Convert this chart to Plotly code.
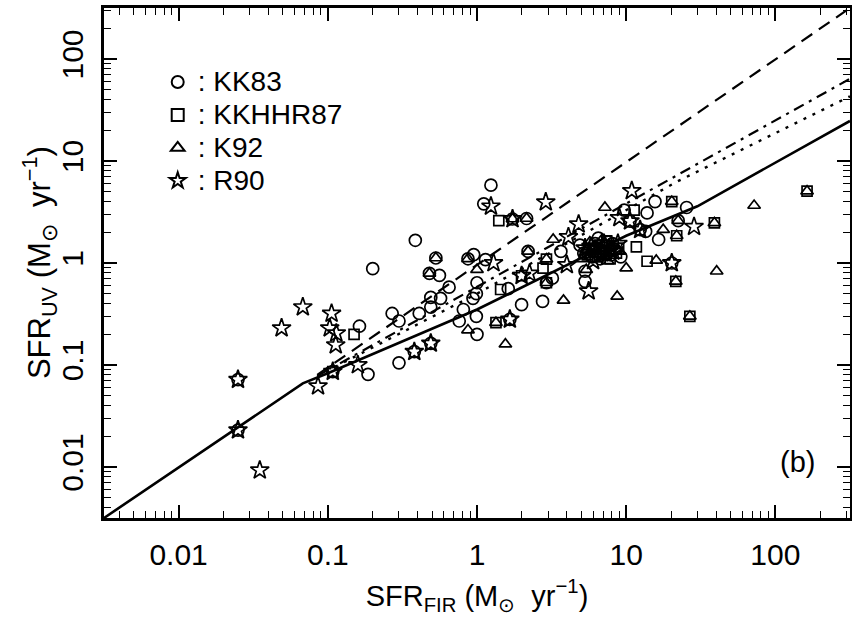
import plotly.graph_objects as go

# --- data (SFR in Msun/yr) ---
kk83_x = [0.025, 0.025, 0.108, 0.163, 0.186, 0.20, 0.27, 0.30, 0.30,
          0.386, 0.53, 0.48, 0.56, 0.65, 0.49, 0.57, 0.49, 0.41, 0.38, 0.49,
          0.87, 0.95, 1.14, 1.0, 0.99, 0.94, 0.81, 0.76, 1.0, 0.99,
          1.24, 1.11, 1.73, 2.15, 1.62, 1.99, 2.75, 2.2, 2.92, 1.66,
          3.65, 5.3, 5.3, 3.2, 15.6, 13.8, 25.4, 16.5, 22.3, 9.7, 10.6, 12.4, 13.5, 20.2,
          5.6, 6.2, 6.8, 7.3, 7.9, 5.9, 8.4, 6.5, 7.6, 5.2, 9.2, 4.9,
          6.0, 7.0, 8.1, 6.7]
kk83_y = [0.023, 0.072, 0.086, 0.24, 0.081, 0.88, 0.32, 0.27, 0.105,
          1.67, 1.12, 0.79, 0.755, 0.58, 0.46, 0.45, 0.37, 0.32, 0.135, 0.163,
          1.10, 1.21, 1.08, 0.64, 0.50, 0.45, 0.35, 0.27, 0.20, 0.30,
          5.8, 3.8, 2.7, 2.73, 0.56, 0.39, 0.42, 1.30, 0.64, 0.28,
          1.30, 0.66, 0.83, 0.71, 4.0, 3.1, 3.5, 1.70, 2.6, 3.3, 2.57, 2.12, 2.04, 1.0,
          1.35, 1.55, 1.25, 1.45, 1.2, 1.15, 1.35, 1.75, 1.6, 1.25, 1.15, 1.5,
          1.3, 1.4, 1.55, 1.1]

kkhhr87_x = [0.108, 0.15, 1.40, 1.34, 1.44, 1.99, 2.92, 2.77, 2.92, 11.3, 11.7, 13.8,
             20.2, 21.5, 26.7, 39, 163, 21.8, 6.0, 7.0, 7.8, 8.6, 5.5, 6.6,
             7.4, 6.2, 8.9]
kkhhr87_y = [0.086, 0.20, 2.6, 0.26, 0.55, 0.75, 1.09, 0.89, 0.64, 3.3, 1.44, 1.04,
             4.0, 0.66, 0.30, 2.47, 5.06, 1.85, 1.4, 1.3, 1.1, 1.25, 1.2, 1.5,
             1.65, 1.15, 1.4]

k92_x = [0.53, 0.48, 0.87, 1.0, 0.87, 1.34, 1.55, 1.73, 2.15, 2.2, 2.92, 3.24, 2.92,
         3.8, 5.4, 7.2, 8.7, 10.0, 15.9, 17.7, 20.2, 22.3, 21.8, 21.5, 26.7, 39,
         40.4, 72, 163, 5.7, 6.3, 7.2, 8.0, 9.0, 6.9, 5.1, 7.5,
         6.1, 7.8, 5.4]
k92_y = [1.12, 0.79, 1.10, 0.86, 0.22, 0.26, 0.16, 2.7, 2.73, 1.30, 1.09, 1.70, 0.64,
         0.43, 0.86, 3.5, 0.47, 0.89, 1.06, 2.12, 4.0, 2.6, 1.85, 0.66, 0.30, 2.47,
         0.83, 3.66, 5.06, 1.6, 1.3, 1.15, 1.45, 1.3, 1.7, 1.1, 1.05,
         1.45, 1.25, 1.35]

r90_x = [0.025, 0.025, 0.035, 0.049, 0.068, 0.086, 0.106, 0.103, 0.114, 0.113, 0.108,
         0.159, 0.38, 0.49, 1.29, 1.24, 1.73, 2.89, 1.66, 2.25, 1.99, 4.0, 4.1, 4.8,
         5.6, 9.0, 10.9, 10.6, 12.4, 20.2, 28.5,
         5.8, 6.4, 7.1, 8.2, 6.0, 7.7, 8.8, 6.9, 5.3]
r90_y = [0.072, 0.023, 0.0093, 0.23, 0.37, 0.062, 0.32, 0.23, 0.205, 0.157, 0.086,
         0.10, 0.135, 0.163, 1.0, 3.6, 2.7, 3.95, 0.28, 0.79, 0.75, 0.96, 1.8, 2.4,
         0.53, 2.77, 5.1, 2.57, 2.12, 1.0, 2.27,
         1.45, 1.2, 1.55, 1.3, 1.05, 1.4, 1.55, 1.25, 1.4]

# model curves
solid_x = [0.00316, 0.068, 0.1, 1, 10, 30, 316]
solid_y = [0.00316, 0.066, 0.083, 0.35, 1.85, 3.6, 24.7]
dashed_x = [0.085, 316]
dashed_y = [0.08, 316]
dashdot_x = [0.085, 316]
dashdot_y = [0.078, 64]
dotted_x = [0.085, 1, 22, 316]
dotted_y = [0.078, 0.5, 6.3, 43]

fig = go.Figure()

for lx, ly, d, w in [(solid_x, solid_y, 'solid', 2.6),
                     (dashed_x, dashed_y, '13px,8px', 2.2),
                     (dashdot_x, dashdot_y, '11px,6px,3px,6px', 2.2),
                     (dotted_x, dotted_y, '3px,7px', 2.4)]:
    fig.add_trace(go.Scatter(x=lx, y=ly, mode='lines', showlegend=False,
                             line=dict(color='black', width=w, dash=d),
                             hoverinfo='skip'))

# legend text drawn a bit larger than the legend row height
lab = "<span style='font-size:28px'>: %s</span>"
series = [(kk83_x, kk83_y, 'circle-open', 12, lab % 'KK83'),
          (kkhhr87_x, kkhhr87_y, 'square-open', 10, lab % 'KKHHR87'),
          (k92_x, k92_y, 'triangle-up-open', 11, lab % 'K92'),
          (r90_x, r90_y, 'star-open', 14, lab % 'R90')]
for sx, sy, sym, sz, name in series:
    fig.add_trace(go.Scatter(x=sx, y=sy, mode='markers', name=name,
                             marker=dict(symbol=sym, size=sz, color='black',
                                         line=dict(color='black', width=1.7))))

axis_common = dict(type='log', range=[-2.5, 2.5], dtick=1, automargin=False,
                   showline=True, linecolor='black', linewidth=2.5, mirror='allticks',
                   ticks='inside', ticklen=13, tickwidth=1.6, tickcolor='black',
                   minor=dict(ticks='inside', ticklen=7, tickwidth=1.4, tickcolor='black', dtick='D1'),
                   showgrid=False, zeroline=False,
                   tickfont=dict(size=30, color='black'))

fig.update_xaxes(**axis_common, ticklabelstandoff=8,
                 title=dict(text='SFR<sub>FIR</sub> (M<sub>\u2299</sub>  yr<sup>\u22121</sup>)',
                            font=dict(size=29, color='black'), standoff=16))
fig.update_yaxes(**axis_common, tickangle=-90, ticklabelstandoff=6)

# y title as a rotated annotation so it can sit closer to the tick labels
fig.add_annotation(x=-0.087, y=0.5, xref='paper', yref='paper',
                   text='SFR<sub>UV</sub> (M<sub>\u2299</sub>  yr<sup>\u22121</sup>)',
                   textangle=-90, xanchor='center', yanchor='middle', showarrow=False,
                   font=dict(size=31, color='black'))

fig.add_annotation(x=0.929, y=0.11, xref='paper', yref='paper', text='(b)',
                   xanchor='center', yanchor='middle',
                   showarrow=False, font=dict(size=29, color='black'))

fig.update_layout(width=852, height=620, margin=dict(l=104, r=2, t=8, b=102),
                  paper_bgcolor='white', plot_bgcolor='white',
                  font=dict(family='Liberation Sans, Arial, sans-serif', color='black'),
                  legend=dict(x=0.072, y=0.897, xanchor='left', yanchor='top',
                              bgcolor='rgba(0,0,0,0)', font=dict(size=23),
                              tracegroupgap=0, itemsizing='constant'))

fig.write_html("out.html", config={'responsive': False, 'displayModeBar': False},
               post_script="document.body.style.margin='0px';")
